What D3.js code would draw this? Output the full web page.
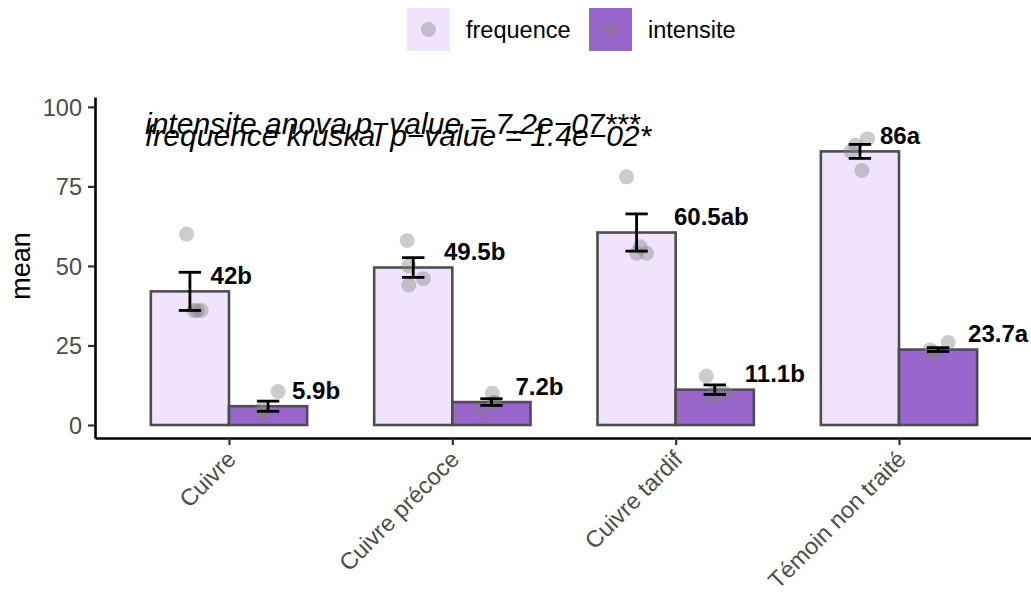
<!DOCTYPE html>
<html><head><meta charset="utf-8">
<script src="https://cdn.jsdelivr.net/npm/d3@7"></script>
<style>
body{margin:0;background:#fff}
text{font-family:"Liberation Sans",Arial,Helvetica,sans-serif}
</style>
</head><body>
<svg id="c" width="1031" height="594"></svg>
<script>
// ---- data ----
const categories = ["Cuivre", "Cuivre précoce", "Cuivre tardif", "Témoin non traité"];
const seriesNames = ["frequence", "intensite"];
const freqMean = [42, 49.5, 60.5, 86];
const intMean = [5.9, 7.2, 11.1, 23.7];
const freqSE = [6, 3.1, 5.85, 2.2];
const intSE = [1.6, 1.05, 1.5, 0.6];
const freqLetters = ["b", "b", "ab", "a"];
const intLetters = ["b", "b", "b", "a"];
const freqPoints = [[60, 36, 36, 36], [58, 50, 46, 44], [78, 56, 54, 54], [90, 88, 86, 80]];
const intPoints = [[10.5, 5, 4.1, 4], [10, 7, 4.7, 7.1], [15.4, 10, 8.4, 10.6], [25.9, 23.6, 22.5, 22.8]];
const freqJitter = [[-0.015, 0.018, 0.05, 0.032], [-0.027, -0.02, 0.045, -0.02], [-0.045, 0.016, 0, 0.045], [0.034, -0.02, -0.04, 0.009]];
const intJitter = [[0.045, -0.027, -0.022, -0.018], [0.004, 0.009, -0.045, 0.014], [-0.038, 0.047, -0.02, 0], [0.045, -0.036, -0.018, -0.027]];
const yTicks = [0, 25, 50, 75, 100];
const annotations = ["intensite anova p\u2212value = 7.2e\u221207***", "frequence kruskal p\u2212value = 1.4e\u221202*"];
const annotationY = [91.6, 87.8];
const annotationX = 0.624;

const colors = {frequence: "#F0E4FC", intensite: "#9966CC"};

// ---- layout ----
const svg = d3.select("#c");
const x = d3.scaleLinear().domain([0.4, 4.6]).range([95, 1033]);
const y = d3.scaleLinear().domain([-4.09, 103.1]).range([438, 97]);
const dodge = 0.175, barW = 0.35, capW = 0.1;

const series = [
  {name: "frequence", mean: freqMean, se: freqSE, letters: freqLetters, pts: freqPoints, jit: freqJitter, off: -dodge},
  {name: "intensite", mean: intMean, se: intSE, letters: intLetters, pts: intPoints, jit: intJitter, off: dodge}
];

const plot = svg.append("g");

// bars
series.forEach(s => {
  plot.selectAll(null).data(categories).enter().append("rect")
    .attr("x", (d, i) => x(i + 1 + s.off - barW / 2))
    .attr("width", x(barW) - x(0))
    .attr("y", (d, i) => y(s.mean[i]))
    .attr("height", (d, i) => y(0) - y(s.mean[i]))
    .attr("fill", colors[s.name])
    .attr("stroke", "#4d4d4d")
    .attr("stroke-width", 2.6);
});

// points
series.forEach(s => {
  const pts = [];
  s.pts.forEach((arr, i) => arr.forEach((v, k) => pts.push({cx: i + 1 + s.off + s.jit[i][k], v})));
  plot.selectAll(null).data(pts).enter().append("circle")
    .attr("cx", d => x(d.cx))
    .attr("cy", d => y(d.v))
    .attr("r", 7.5)
    .attr("fill", "#7f7f7f")
    .attr("fill-opacity", 0.4);
});

// error bars
series.forEach(s => {
  const g = plot.selectAll(null).data(categories).enter().append("g")
    .attr("stroke", "#000").attr("stroke-width", 2.8).attr("fill", "none");
  g.append("line")
    .attr("x1", (d, i) => x(i + 1 + s.off)).attr("x2", (d, i) => x(i + 1 + s.off))
    .attr("y1", (d, i) => y(s.mean[i] - s.se[i])).attr("y2", (d, i) => y(s.mean[i] + s.se[i]));
  g.append("line")
    .attr("x1", (d, i) => x(i + 1 + s.off - capW / 2)).attr("x2", (d, i) => x(i + 1 + s.off + capW / 2))
    .attr("y1", (d, i) => y(s.mean[i] + s.se[i])).attr("y2", (d, i) => y(s.mean[i] + s.se[i]));
  g.append("line")
    .attr("x1", (d, i) => x(i + 1 + s.off - capW / 2)).attr("x2", (d, i) => x(i + 1 + s.off + capW / 2))
    .attr("y1", (d, i) => y(s.mean[i] - s.se[i])).attr("y2", (d, i) => y(s.mean[i] - s.se[i]));
});

// bar labels
series.forEach(s => {
  plot.selectAll(null).data(categories).enter().append("text")
    .text((d, i) => String(s.mean[i]) + s.letters[i])
    .attr("font-size", 24).attr("font-weight", "bold").attr("fill", "#000")
    .attr("y", (d, i) => y(s.mean[i]) - 7.5)
    .attr("x", function (d, i) { return x(i + 1 + s.off) + this.getComputedTextLength() / 2; });
});

// annotations
svg.selectAll(null).data(annotations).enter().append("text")
  .text(d => d)
  .attr("x", x(annotationX))
  .attr("y", (d, i) => y(annotationY[i]))
  .attr("font-size", 30).attr("font-style", "italic").attr("fill", "#000");

// axes
const yAxis = svg.append("g").attr("transform", `translate(${x(0.4)},0)`)
  .call(d3.axisLeft(y).tickValues(yTicks).tickSize(7).tickPadding(6).tickSizeOuter(0));
const xAxis = svg.append("g").attr("transform", `translate(0,${y(-4.09)})`)
  .call(d3.axisBottom(x).tickValues([1, 2, 3, 4]).tickFormat(i => categories[i - 1]).tickSize(7).tickSizeOuter(0));
[yAxis, xAxis].forEach(a => {
  a.select(".domain").attr("stroke", "#000").attr("stroke-width", 2.6);
  a.selectAll(".tick line").attr("stroke", "#333").attr("stroke-width", 2.2);
  a.selectAll(".tick text").attr("fill", "#4d4d4d").attr("font-size", 23.5)
    .attr("font-family", '"Liberation Sans",Arial,sans-serif');
});
yAxis.selectAll(".tick text").attr("dy", "0.35em");
xAxis.selectAll(".tick text")
  .attr("text-anchor", "end").attr("dy", null).attr("y", null)
  .attr("transform", "translate(-4,11) rotate(-45)")
  .attr("dy", "0.71em");

// y title
svg.append("text").text("mean")
  .attr("transform", `translate(30,${(y(0) + y(100)) / 2}) rotate(-90)`)
  .attr("text-anchor", "middle").attr("font-size", 27).attr("fill", "#000");

// legend
const leg = svg.append("g");
const legX = [407, 589];
seriesNames.forEach((n, i) => {
  const g = leg.append("g").attr("transform", `translate(${legX[i]},8)`);
  g.append("rect").attr("width", 43).attr("height", 43).attr("fill", colors[n]);
  g.append("circle").attr("cx", 21.5).attr("cy", 21.5).attr("r", 7.5).attr("fill", "#7f7f7f").attr("fill-opacity", 0.4);
  g.append("text").text(n).attr("x", 59).attr("y", 21.5).attr("dy", "0.35em")
    .attr("font-size", 23.5).attr("fill", "#000");
});
</script>
</body></html>
